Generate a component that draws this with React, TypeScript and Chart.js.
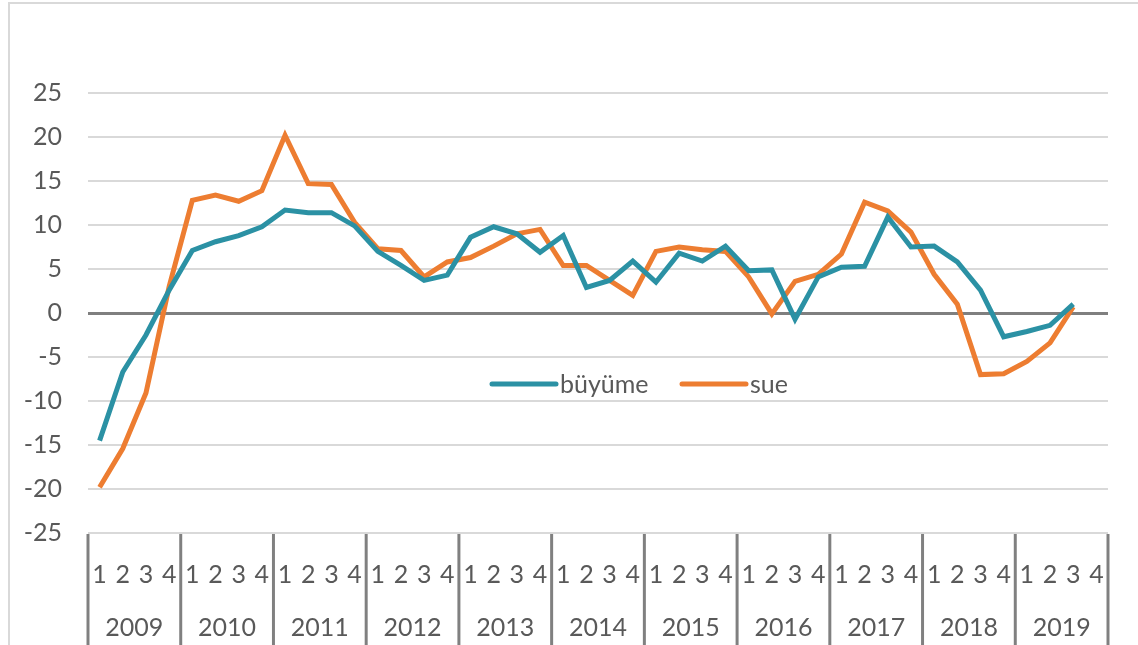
import React, { useEffect, useRef } from "react";
import { Chart, registerables } from "chart.js";

Chart.register(...registerables);

const years = ["2009", "2010", "2011", "2012", "2013", "2014", "2015", "2016", "2017", "2018", "2019"];
const quarters = ["1", "2", "3", "4"];

const buyume = [
  -14.5, -6.7, -2.5, 2.6,
  7.1, 8.1, 8.8, 9.8,
  11.7, 11.4, 11.4, 9.9,
  7.0, 5.4, 3.7, 4.3,
  8.6, 9.8, 9.0, 6.9,
  8.8, 2.9, 3.7, 5.9,
  3.5, 6.8, 5.9, 7.6,
  4.8, 4.9, -0.7, 4.1,
  5.2, 5.3, 10.9, 7.5,
  7.6, 5.8, 2.6, -2.7,
  -2.1, -1.4, 1.0,
];

const sue = [
  -19.8, -15.4, -9.1, 3.0,
  12.8, 13.4, 12.7, 13.9,
  20.2, 14.7, 14.6, 10.3,
  7.3, 7.1, 4.1, 5.8,
  6.3, 7.6, 9.0, 9.5,
  5.4, 5.4, 3.7, 2.0,
  7.0, 7.5, 7.2, 7.0,
  4.1, -0.1, 3.6, 4.4,
  6.7, 12.6, 11.6, 9.2,
  4.4, 1.0, -7.0, -6.9,
  -5.5, -3.4, 0.7,
];

const yTicks = [-25, -20, -15, -10, -5, 0, 5, 10, 15, 20, 25];

const TEAL = "#2b91a4";
const ORANGE = "#ed7d31";
const TEXT = "#595959";
const FONT = "Lato, Carlito, Calibri, sans-serif";

export default function App() {
  const ref = useRef<HTMLCanvasElement | null>(null);

  useEffect(() => {
    const canvas = ref.current;
    if (!canvas) return;

    const labels: string[] = [];
    years.forEach((y) => quarters.forEach((q) => labels.push(q)));

    const decorPlugin = {
      id: "decor",
      beforeDraw(chart: any) {
        const c = chart.ctx;
        c.save();
        c.strokeStyle = "#d9d9d9";
        c.lineWidth = 2;
        c.beginPath();
        c.moveTo(9, 645);
        c.lineTo(9, 3);
        c.lineTo(1138, 3);
        c.stroke();
        c.restore();
      },
      afterDraw(chart: any) {
        const c = chart.ctx;
        const xs = chart.scales.x;
        const n = labels.length;
        const half = (xs.getPixelForValue(1) - xs.getPixelForValue(0)) / 2;
        c.save();
        // year separators
        c.strokeStyle = "#808080";
        c.lineWidth = 3;
        for (let k = 0; k <= years.length; k++) {
          const idx = Math.min(k * 4, n - 1);
          const x = k < years.length ? xs.getPixelForValue(k * 4) - half : xs.getPixelForValue(n - 1) + half;
          c.beginPath();
          c.moveTo(x, chart.chartArea.bottom + 1);
          c.lineTo(x, 645);
          c.stroke();
        }
        // year labels
        c.fillStyle = TEXT;
        c.font = `25px ${FONT}`;
        c.textAlign = "center";
        c.textBaseline = "middle";
        years.forEach((y, k) => {
          const x = (xs.getPixelForValue(k * 4) + xs.getPixelForValue(k * 4 + 3)) / 2;
          c.fillText(y, x, 628);
        });
        // legend
        const items = chart.data.datasets.map((d: any) => ({ label: d.label, color: d.borderColor }));
        const pos = [492, 682];
        items.forEach((it: any, i: number) => {
          const x0 = pos[i];
          const y0 = 384;
          c.strokeStyle = it.color;
          c.lineWidth = 5;
          c.lineCap = "round";
          c.beginPath();
          c.moveTo(x0, y0);
          c.lineTo(x0 + 64, y0);
          c.stroke();
          c.fillStyle = TEXT;
          c.textAlign = "left";
          c.textBaseline = "middle";
          c.font = `25px ${FONT}`;
          c.fillText(it.label, x0 + 68, y0 + 1);
        });
        c.restore();
      },
    };

    const chart = new Chart(canvas, {
      type: "line",
      data: {
        labels,
        datasets: [
          {
            label: "büyüme",
            data: buyume,
            borderColor: TEAL,
            backgroundColor: TEAL,
            borderWidth: 5,
            pointRadius: 0,
            tension: 0,
            fill: false,
          },
          {
            label: "sue",
            data: sue,
            borderColor: ORANGE,
            backgroundColor: ORANGE,
            borderWidth: 5,
            pointRadius: 0,
            tension: 0,
            fill: false,
          },
        ],
      },
      options: {
        responsive: false,
        animation: false,
        layout: { padding: { left: 0, right: 30, top: 93, bottom: 0 } },
        plugins: {
          legend: { display: false },
          tooltip: { enabled: false },
        },
        scales: {
          x: {
            type: "category",
            offset: true,
            grid: { display: false, drawTicks: false },
            border: { display: false },
            ticks: {
              autoSkip: false,
              maxRotation: 0,
              minRotation: 0,
              padding: 27,
              color: TEXT,
              font: { family: FONT, size: 25 },
            },
            afterFit(scale: any) {
              scale.height = 112;
            },
          },
          y: {
            min: -25,
            max: 25,
            afterBuildTicks(scale: any) {
              scale.ticks = yTicks.map((v) => ({ value: v }));
            },
            grid: {
              drawTicks: false,
              color: (ctx: any) => (ctx.tick && ctx.tick.value === 0 ? "#7f7f7f" : "#d9d9d9"),
              lineWidth: (ctx: any) => (ctx.tick && ctx.tick.value === 0 ? 3 : 2),
            },
            border: { display: false },
            ticks: {
              padding: 26,
              color: TEXT,
              font: { family: FONT, size: 25 },
            },
            afterFit(scale: any) {
              scale.width = 88;
            },
          },
        },
      },
      plugins: [decorPlugin],
    });

    return () => chart.destroy();
  }, []);

  return (
    <div style={{ position: "fixed", left: 0, top: 0, width: 1138, height: 645, background: "#fff" }}>
      <canvas ref={ref} width={1138} height={645} style={{ display: "block" }} />
    </div>
  );
}
